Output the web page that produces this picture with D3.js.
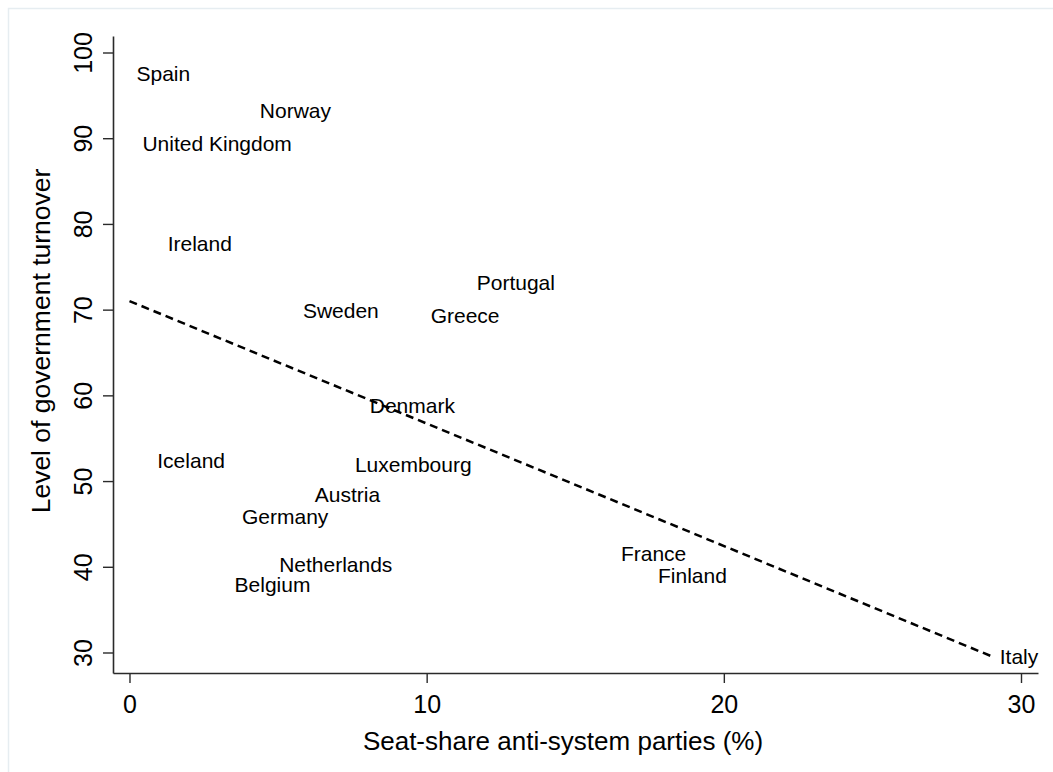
<!DOCTYPE html>
<html>
<head>
<meta charset="utf-8">
<script src="https://cdn.jsdelivr.net/npm/d3@7"></script>
<style>
  html, body { margin: 0; padding: 0; background: #fff; }
  svg { display: block; font-family: "Liberation Sans", Arial, Helvetica, sans-serif; }
</style>
</head>
<body>
<svg id="chart" width="1053" height="772"></svg>
<script>
// Country labels and their coordinates
const countries = ["Spain", "Norway", "United Kingdom", "Ireland", "Portugal", "Greece",
  "Sweden", "Denmark", "Iceland", "Luxembourg", "Austria", "Germany",
  "Netherlands", "Belgium", "France", "Finland", "Italy"];
const seatShare = [0, 4.15, 0.2, 1.05, 11.45, 9.9, 5.6, 7.85, 0.7, 7.35, 6.0, 3.55,
  4.8, 3.3, 16.3, 17.55, 29.05];
const turnover = [97.5, 93.2, 89.35, 77.7, 73.2, 69.3, 69.9, 58.8, 52.4, 51.9, 48.45, 45.85,
  40.3, 37.95, 41.5, 38.95, 29.5];

// Linear fit, evaluated at the ends of the x range
const fitX = [0, 29.05];
const fitY = [71.0, 29.5];

const xTicks = [0, 10, 20, 30];
const yTicks = [30, 40, 50, 60, 70, 80, 90, 100];

const xTitle = "Seat-share anti-system parties (%)";
const yTitle = "Level of government turnover";

const svg = d3.select("#chart");

// light outer border of the graph region
svg.append("rect")
  .attr("x", 8.5).attr("y", 8.5)
  .attr("width", 1200).attr("height", 900)
  .attr("fill", "none")
  .attr("stroke", "#e6edf1")
  .attr("stroke-width", 1.5);

const plot = { left: 113, right: 1038, top: 36, bottom: 673 };

const x = d3.scaleLinear().domain([-0.555, 30.572]).range([plot.left, plot.right]);
const y = d3.scaleLinear().domain([27.608, 101.925]).range([plot.bottom, plot.top]);

// axes
const xAxis = svg.append("g")
  .attr("transform", `translate(0,${plot.bottom})`)
  .call(d3.axisBottom(x).tickValues(xTicks).tickSize(10).tickPadding(6).tickSizeOuter(0));
const yAxis = svg.append("g")
  .attr("transform", `translate(${plot.left},0)`)
  .call(d3.axisLeft(y).tickValues(yTicks).tickSize(10).tickPadding(6).tickSizeOuter(0));

[xAxis, yAxis].forEach(g => {
  g.select(".domain").attr("stroke", "#2a2a2a").attr("stroke-width", 1.6);
  g.selectAll(".tick line").attr("stroke", "#2a2a2a").attr("stroke-width", 1.4);
  g.selectAll(".tick text")
    .attr("fill", "#000")
    .style("font-size", "25px")
    .style("font-family", "'Liberation Sans', Arial, sans-serif");
});

// x tick labels: baseline below ticks
xAxis.selectAll(".tick text")
  .attr("dy", null)
  .attr("y", 40);

// y tick labels rotated to read upward
yAxis.selectAll(".tick text")
  .attr("dy", null)
  .attr("text-anchor", "middle")
  .attr("transform", "translate(-21,0) rotate(-90)")
  .attr("x", 0).attr("y", 0);

// fitted line
svg.append("path")
  .datum(d3.zip(fitX, fitY))
  .attr("d", d3.line().x(d => x(d[0])).y(d => y(d[1])))
  .attr("fill", "none")
  .attr("stroke", "#000")
  .attr("stroke-width", 2.5)
  .attr("stroke-dasharray", "8,5");

// country labels to the right of each point
const pts = countries.map((c, i) => ({ name: c, sx: seatShare[i], ty: turnover[i] }));
svg.append("g").selectAll("text")
  .data(pts)
  .join("text")
  .attr("x", d => x(d.sx) + 7)
  .attr("y", d => y(d.ty) + 7.5)
  .attr("fill", "#000")
  .style("font-size", "21px")
  .text(d => d.name);

// axis titles
svg.append("text")
  .attr("x", 563).attr("y", 750)
  .attr("text-anchor", "middle")
  .style("font-size", "26px")
  .text(xTitle);

svg.append("text")
  .attr("transform", "translate(50,341) rotate(-90)")
  .attr("text-anchor", "middle")
  .style("font-size", "26.5px")
  .text(yTitle);
</script>
</body>
</html>
